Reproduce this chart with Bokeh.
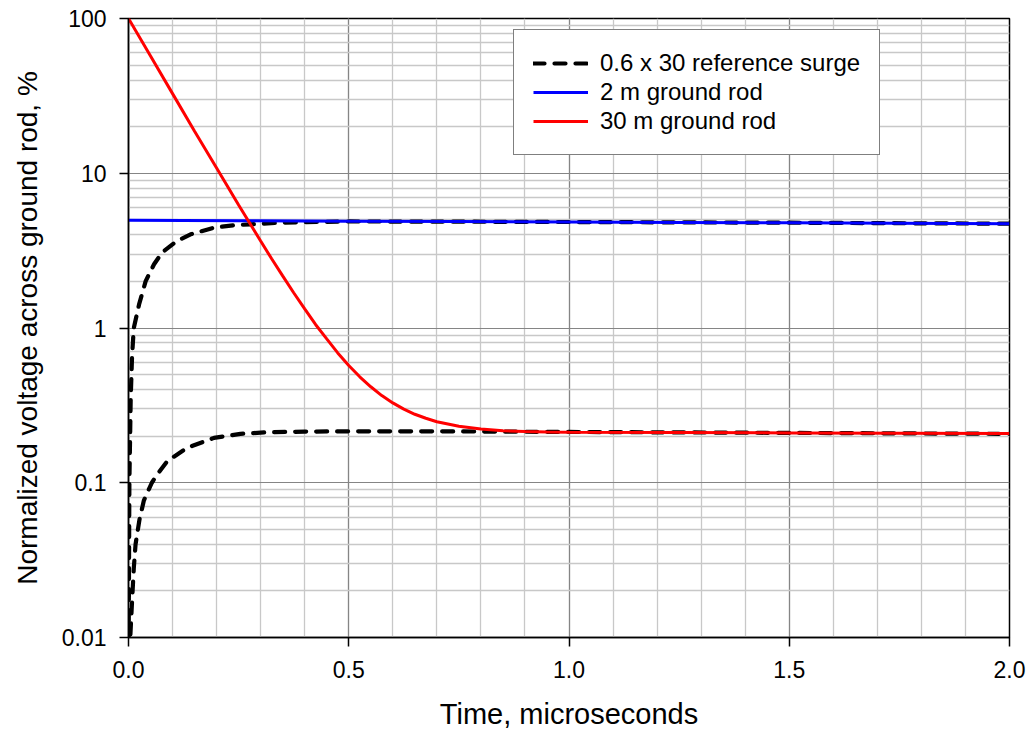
from bokeh.plotting import figure
from bokeh.models import (FixedTicker, SingleIntervalTicker, NumeralTickFormatter,
                          CustomJSTickFormatter, Range1d)
from bokeh.embed import file_html
from bokeh.resources import INLINE

# ---- data ----
t_upper = [0, 0.002, 0.005, 0.008, 0.012, 0.024, 0.039, 0.058, 0.076, 0.11, 0.141,
           0.194, 0.239, 0.277, 0.35, 0.5, 0.7, 1.0, 1.5, 2.0]
v_upper = [0.005, 0.1, 0.35, 0.65, 1.0, 1.42, 2.01, 2.58, 3.07, 3.65, 4.03,
           4.45, 4.61, 4.68, 4.8, 4.88, 4.87, 4.84, 4.79, 4.72]

t_lower = [0, 0.004, 0.008, 0.012, 0.016, 0.025, 0.035, 0.053, 0.065, 0.088, 0.133,
           0.194, 0.254, 0.315, 0.4, 0.5, 0.7, 1.0, 1.5, 2.0]
v_lower = [0.003, 0.01, 0.017, 0.028, 0.04, 0.058, 0.077, 0.1, 0.113, 0.138, 0.168,
           0.195, 0.207, 0.212, 0.214, 0.215, 0.215, 0.213, 0.21, 0.207]

t_blue = [0, 0.25, 0.5, 0.75, 1.0, 1.25, 1.5, 1.75, 2.0]
v_blue = [4.97, 4.93, 4.9, 4.87, 4.84, 4.81, 4.78, 4.75, 4.72]

t_red = [0, 0.05, 0.1, 0.15, 0.2, 0.25, 0.3, 0.325, 0.35, 0.375, 0.4, 0.425, 0.45,
         0.475, 0.5, 0.525, 0.55, 0.575, 0.6, 0.625, 0.65, 0.675, 0.7, 0.75, 0.8,
         0.85, 0.9, 0.95, 1.0, 1.25, 1.5, 1.75, 2.0]
v_red = [100, 57.2, 32.7, 18.7, 10.8, 6.24, 3.65, 2.8, 2.17, 1.69, 1.33, 1.05, 0.85,
         0.69, 0.573, 0.484, 0.417, 0.366, 0.328, 0.299, 0.277, 0.261, 0.248, 0.232, 0.2225,
         0.217, 0.214, 0.2125, 0.212, 0.211, 0.21, 0.209, 0.208]

y_major = [0.01, 0.1, 1, 10, 100]
y_minor = [m * 10.0 ** e for e in range(-2, 2) for m in range(2, 10)]
series_labels = ["0.6 x 30 reference surge", "2 m ground rod", "30 m ground rod"]
x_title = "Time, microseconds"
y_title = "Normalized voltage across ground rod, %"

FONT = "Liberation Sans"

p = figure(width=1026, height=734, y_axis_type="log",
           x_range=Range1d(0, 2.0), y_range=Range1d(0.01, 100),
           output_backend="svg", toolbar_location=None,
           min_border_left=128, min_border_right=17,
           min_border_top=18, min_border_bottom=97)

p.background_fill_color = "white"
p.border_fill_color = "white"
p.outline_line_color = "black"
p.outline_line_width = 1.5

# axes / ticks
p.xaxis.ticker = SingleIntervalTicker(interval=0.5, num_minor_ticks=5)
p.xaxis.formatter = NumeralTickFormatter(format="0.0")
p.yaxis.ticker = FixedTicker(ticks=y_major, minor_ticks=y_minor)
p.yaxis.formatter = CustomJSTickFormatter(code="return String(Number(tick.toPrecision(6)));")

for ax in (p.xaxis[0], p.yaxis[0]):
    ax.axis_line_color = "black"
    ax.axis_line_width = 1.5
    ax.major_tick_line_color = "black"
    ax.major_tick_line_width = 1.5
    ax.major_tick_out = 9
    ax.major_tick_in = 0
    ax.minor_tick_out = 0
    ax.minor_tick_in = 0
    ax.major_label_text_font = FONT
    ax.major_label_text_font_size = "23px"
    ax.major_label_text_color = "black"
    ax.axis_label_text_font = FONT
    ax.axis_label_text_font_size = "28px"
    ax.axis_label_text_font_style = "normal"
    ax.axis_label_text_color = "black"

p.xaxis.axis_label = x_title
p.yaxis.axis_label = y_title
p.xaxis.axis_label_text_font_size = "29px"
p.xaxis.major_label_standoff = 14
p.xaxis.axis_label_standoff = 17
p.yaxis.major_label_standoff = 13
p.yaxis.axis_label_standoff = 16

# grid
for g in (p.xgrid[0], p.ygrid[0]):
    g.grid_line_color = "#858585"
    g.grid_line_width = 1.2
    g.minor_grid_line_color = "#c8c8c8"
    g.minor_grid_line_width = 1.3

# data
p.line(t_upper, v_upper, line_color="black", line_width=4.2, line_dash="11 10",
       line_cap="round", legend_label=series_labels[0])
p.line(t_lower, v_lower, line_color="black", line_width=4.2, line_dash="11 10",
       line_cap="round")
p.line(t_blue, v_blue, line_color="#0000ff", line_width=3, legend_label=series_labels[1])
p.line(t_red, v_red, line_color="#ff0000", line_width=3, legend_label=series_labels[2])

lg = p.legend[0]
lg.location = (385, 482)
lg.border_line_color = "black"
lg.border_line_width = 1.2
lg.background_fill_alpha = 1.0
lg.background_fill_color = "white"
lg.label_text_font = FONT
lg.label_text_font_size = "24px"
lg.label_text_color = "black"
lg.glyph_width = 55
lg.glyph_height = 20
lg.label_height = 20
lg.label_standoff = 12
lg.spacing = 1
lg.padding = 19
lg.margin = 0

open("out.html", "w").write(file_html(p, INLINE))
